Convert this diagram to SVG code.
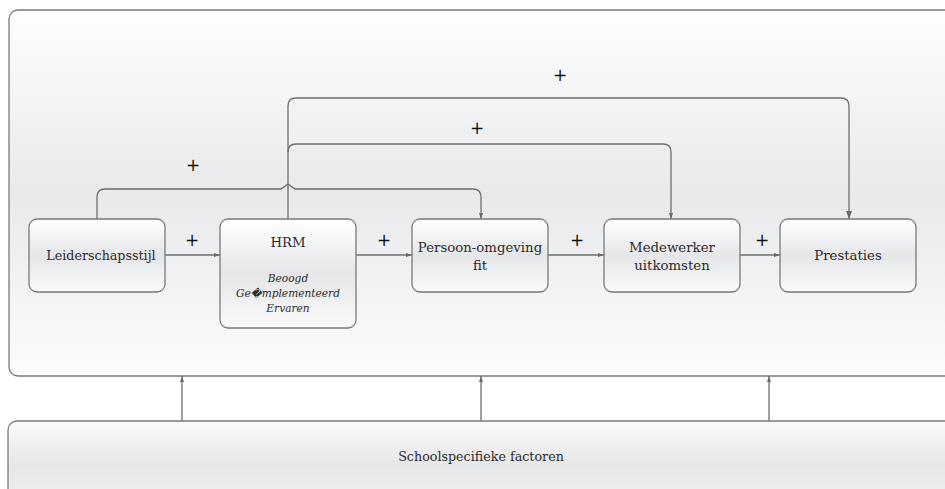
<svg xmlns="http://www.w3.org/2000/svg" width="945" height="489" viewBox="0 0 945 489">
  <defs>
    <linearGradient id="panelFill" x1="0" y1="0" x2="0" y2="1">
      <stop offset="0" stop-color="#fefefe"/>
      <stop offset="0.5" stop-color="#e8e9eb"/>
      <stop offset="1" stop-color="#fcfcfc"/>
    </linearGradient>
    <linearGradient id="nodeFill" x1="0" y1="0" x2="0" y2="1">
      <stop offset="0" stop-color="#ffffff"/>
      <stop offset="0.5" stop-color="#e5e6e8"/>
      <stop offset="1" stop-color="#fafafa"/>
    </linearGradient>
    <linearGradient id="baseFill" x1="0" y1="0" x2="0" y2="1">
      <stop offset="0" stop-color="#fafafa"/>
      <stop offset="0.45" stop-color="#e5e6e8"/>
      <stop offset="1" stop-color="#f6f6f7"/>
    </linearGradient>
    <marker id="arrow" viewBox="0 0 8 6" refX="8" refY="3" markerWidth="8" markerHeight="6" markerUnits="userSpaceOnUse" orient="auto">
      <path d="M0 0 L8 3 L0 6 Z" fill="#6a6a6a"/>
    </marker>
    <marker id="arrowSmall" viewBox="0 0 6 4" refX="6" refY="2" markerWidth="6" markerHeight="4" markerUnits="userSpaceOnUse" orient="auto">
      <path d="M0 0 L6 2 L0 4 Z" fill="#6a6a6a"/>
    </marker>
  </defs>
  <style>
    .panel { fill: url(#panelFill); stroke: #7a7a7a; stroke-width: 1.3; }
    .base { fill: url(#baseFill); stroke: #7a7a7a; stroke-width: 1.3; }
    .node rect { fill: url(#nodeFill); stroke: #7a7a7a; stroke-width: 1.3; }
    .label { font-family: 'DejaVu Serif', 'Liberation Serif', serif; font-size: 13.3px; fill: #2b2b2b; text-anchor: middle; }
    .small { font-size: 12.7px; }
    .sub { font-family: 'DejaVu Serif', 'Liberation Serif', serif; font-size: 10.6px; font-style: italic; fill: #2b2b2b; text-anchor: middle; }
    .plus { font-family: 'DejaVu Sans', sans-serif; font-size: 17px; fill: #111111; text-anchor: middle; }
    .link { fill: none; stroke: #6e6e6e; stroke-width: 1.3; }
  </style>

  <rect width="945" height="489" fill="#ffffff"/>

  <!-- surrounding school context panel -->
  <rect class="panel" x="9" y="10" width="960" height="366" rx="9"/>

  <!-- school-specific factors bar -->
  <g id="schoolfactoren">
    <rect class="base" x="8" y="421" width="960" height="100" rx="9"/>
    <text class="label small" x="481" y="461">Schoolspecifieke factoren</text>
  </g>

  <!-- connectors -->
  <g id="connectors">
    <path class="link" d="M165 255 H220" marker-end="url(#arrowSmall)"/>
    <path class="link" d="M356 255 H412" marker-end="url(#arrowSmall)"/>
    <path class="link" d="M548 255 H604" marker-end="url(#arrowSmall)"/>
    <path class="link" d="M740 255 H780" marker-end="url(#arrowSmall)"/>

    <path class="link" d="M97 219 V197 Q97 189 105 189 H281 L288 184 L295 189 H473 Q481 189 481 197 V219" marker-end="url(#arrowSmall)"/>
    <path class="link" d="M288 219 V106 Q288 98 296 98 H841 Q849 98 849 106 V219" marker-end="url(#arrow)"/>
    <path class="link" d="M288 152 Q288 144 296 144 H663 Q671 144 671 152 V219" marker-end="url(#arrowSmall)"/>

    <path class="link" d="M182 421 V376" marker-end="url(#arrowSmall)"/>
    <path class="link" d="M481 421 V376" marker-end="url(#arrowSmall)"/>
    <path class="link" d="M769 421 V376" marker-end="url(#arrowSmall)"/>

    <text class="plus" x="193" y="171">+</text>
    <text class="plus" x="477" y="134">+</text>
    <text class="plus" x="560" y="81">+</text>
    <text class="plus" x="192" y="246">+</text>
    <text class="plus" x="384" y="246">+</text>
    <text class="plus" x="577" y="246">+</text>
    <text class="plus" x="762" y="246">+</text>
  </g>

  <!-- model nodes -->
  <g id="leiderschapsstijl" class="node">
    <rect x="29" y="219" width="136" height="73" rx="8"/>
    <text class="label small" x="101" y="260">Leiderschapsstijl</text>
  </g>
  <g id="hrm" class="node">
    <rect x="220" y="219" width="136" height="109" rx="8"/>
    <text class="label" x="288" y="247">HRM</text>
    <text class="sub" x="288" y="282">Beoogd</text>
    <text class="sub" x="288" y="297">Ge�mplementeerd</text>
    <text class="sub" x="288" y="312">Ervaren</text>
  </g>
  <g id="persoon-omgeving-fit" class="node">
    <rect x="412" y="219" width="136" height="73" rx="8"/>
    <text class="label" x="480" y="252">Persoon-omgeving</text>
    <text class="label" x="480" y="270">fit</text>
  </g>
  <g id="medewerker-uitkomsten" class="node">
    <rect x="604" y="219" width="136" height="73" rx="8"/>
    <text class="label" x="672" y="252">Medewerker</text>
    <text class="label" x="672" y="270">uitkomsten</text>
  </g>
  <g id="prestaties" class="node">
    <rect x="780" y="219" width="136" height="73" rx="8"/>
    <text class="label" x="848" y="260">Prestaties</text>
  </g>
</svg>
